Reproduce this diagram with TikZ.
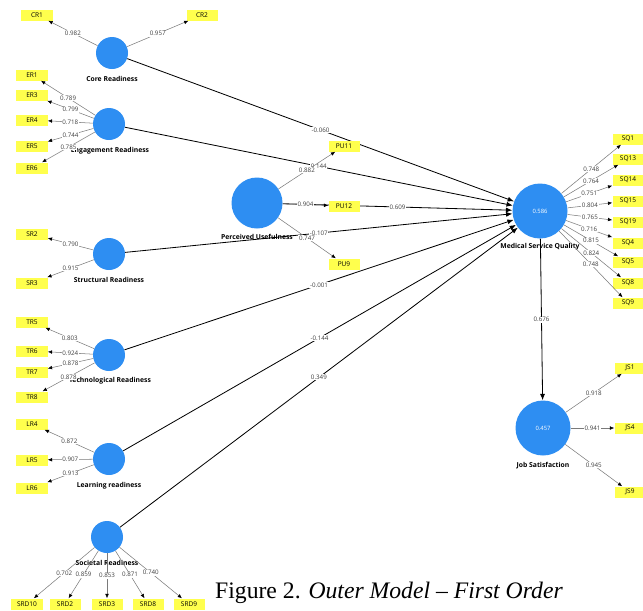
\documentclass[tikz,border=0pt]{standalone}
\usepackage{fontspec}
\newfontfamily\plsfont{Open Sans}
\newfontfamily\capfont{Liberation Serif}
\usetikzlibrary{arrows.meta,backgrounds}

\definecolor{lvblue}{HTML}{2E8EF2}
\definecolor{mvyellow}{HTML}{FFFF4D}
\definecolor{loadgray}{HTML}{7A7A7A}

\tikzset{
  lv/.style={circle, fill=lvblue, inner sep=0pt, minimum size=0.96cm},
  lvmid/.style={lv, minimum size=1.53cm},
  lvbig/.style={lv, minimum size=1.65cm},
  lvname/.style={font=\plsfont\bfseries\fontsize{5.8}{6}\selectfont, inner sep=0.5pt},
  rsq/.style={text=white, font=\plsfont\fontsize{5}{6}\selectfont},
  mv/.style={rectangle, fill=mvyellow, minimum width=0.93cm, minimum height=0.33cm, inner sep=0pt, font=\plsfont\fontsize{5.6}{6}\selectfont},
  loadarrow/.style={draw=loadgray, line width=0.45pt, -{Latex[color=black,length=1.3mm,width=1.1mm]}},
  structpath/.style={draw=black, line width=0.7pt, -{Latex[length=1.9mm,width=1.5mm]}},
  coef/.style={fill=white, inner sep=0.6pt, text=black!75, font=\plsfont\fontsize{5.3}{6}\selectfont}
}

\begin{document}
\begin{tikzpicture}[x=0.03cm, y=-0.03cm]

\useasboundingbox (0,0) rectangle (643,610);

%latent variables
\node [lv] (CR) at (112,53) {};
\node [lv] (ER) at (109,124) {};
\node [lv] (SR) at (109,254) {};
\node [lv] (TR) at (109,355) {};
\node [lv] (LR) at (109,459) {};
\node [lv] (SRD) at (107,537) {};
\node [lvmid] (PU) at (257,203) {};
\node [lvbig] (MSQ) at (540,211) {};
\node [rsq] (MSQr) at (MSQ) {0.586};
\node [lvbig] (JS) at (543,428) {};
\node [rsq] (JSr) at (JS) {0.457};

\node [lvname] (CRt) at (112,79) {Core Readiness};
\node [lvname] (ERt) at (110,151) {Engagement Readiness};
\node [lvname] (SRt) at (109,280) {Structural Readiness};
\node [lvname] (TRt) at (110,381) {Technological Readiness};
\node [lvname] (LRt) at (109,486) {Learning readiness};
\node [lvname] (SRDt) at (107,563) {Societal Readiness};
\node [lvname] (PUt) at (257,237) {Perceived Usefulness};
\node [lvname] (MSQt) at (540,247) {Medical Service Quality};
\node [lvname] (JSt) at (543,466) {Job Satisfaction};

%indicators
\node [mv] (CR1) at (37,15) {CR1};
\node [mv] (CR2) at (202,15) {CR2};
\node [mv] (ER1) at (32,75) {ER1};
\node [mv] (ER3) at (32,95) {ER3};
\node [mv] (ER4) at (32,120) {ER4};
\node [mv] (ER5) at (32,146) {ER5};
\node [mv] (ER6) at (32,168) {ER6};
\node [mv] (SR2) at (32,234) {SR2};
\node [mv] (SR3) at (32,283) {SR3};
\node [mv] (TR5) at (32,322) {TR5};
\node [mv] (TR6) at (32,351) {TR6};
\node [mv] (TR7) at (32,372) {TR7};
\node [mv] (TR8) at (32,397) {TR8};
\node [mv] (LR4) at (32,424) {LR4};
\node [mv] (LR5) at (32,460) {LR5};
\node [mv] (LR6) at (32,488) {LR6};
\node [mv] (SRD10) at (27,604) {SRD10};
\node [mv] (SRD2) at (65,604) {SRD2};
\node [mv] (SRD3) at (107,604) {SRD3};
\node [mv] (SRD8) at (148,604) {SRD8};
\node [mv] (SRD9) at (189,604) {SRD9};
\node [mv] (PU11) at (344,146) {PU11};
\node [mv] (PU12) at (344,206) {PU12};
\node [mv] (PU9) at (344,264) {PU9};
\node [mv] (SQ1) at (628,139) {SQ1};
\node [mv] (SQ13) at (628,159) {SQ13};
\node [mv] (SQ14) at (628,180) {SQ14};
\node [mv] (SQ15) at (628,201) {SQ15};
\node [mv] (SQ19) at (628,222) {SQ19};
\node [mv] (SQ4) at (628,243) {SQ4};
\node [mv] (SQ5) at (628,262) {SQ5};
\node [mv] (SQ8) at (628,283) {SQ8};
\node [mv] (SQ9) at (628,303) {SQ9};
\node [mv] (JS1) at (630,368) {JS1};
\node [mv] (JS4) at (630,428) {JS4};
\node [mv] (JS9) at (630,492) {JS9};

%inner model
\begin{scope}[on background layer]
\draw [structpath] (CR) -- node [coef] {-0.060} (MSQ);
\draw [structpath] (ER) -- node [coef] {0.144} (MSQ);
\draw [structpath] (PU) -- node [coef] {0.609} (MSQ);
\draw [structpath] (SR) -- node [coef] {-0.107} (MSQ);
\draw [structpath] (TR) -- node [coef] {-0.001} (MSQ);
\draw [structpath] (LR) -- node [coef] {-0.144} (MSQ);
\draw [structpath] (SRD) -- node [coef] {0.349} (MSQ);
\draw [structpath] (MSQ) -- node [coef] {0.676} (JS);
\end{scope}

%outer loadings
\draw [loadarrow] (CR) -- node [coef] {0.982} (CR1);
\draw [loadarrow] (CR) -- node [coef] {0.957} (CR2);

\draw [loadarrow] (ER) -- node [coef] {0.789} (ER1);
\draw [loadarrow] (ER) -- node [coef] {0.799} (ER3);
\draw [loadarrow] (ER) -- node [coef] {0.718} (ER4);
\draw [loadarrow] (ER) -- node [coef] {0.744} (ER5);
\draw [loadarrow] (ER) -- node [coef] {0.785} (ER6);

\draw [loadarrow] (SR) -- node [coef] {0.790} (SR2);
\draw [loadarrow] (SR) -- node [coef] {0.915} (SR3);

\draw [loadarrow] (TR) -- node [coef] {0.803} (TR5);
\draw [loadarrow] (TR) -- node [coef] {0.924} (TR6);
\draw [loadarrow] (TR) -- node [coef] {0.878} (TR7);
\draw [loadarrow] (TR) -- node [coef] {0.878} (TR8);

\draw [loadarrow] (LR) -- node [coef] {0.872} (LR4);
\draw [loadarrow] (LR) -- node [coef] {0.907} (LR5);
\draw [loadarrow] (LR) -- node [coef] {0.913} (LR6);

\draw [loadarrow] (SRD) -- node [coef] {0.702} (SRD10);
\draw [loadarrow] (SRD) -- node [coef] {0.859} (SRD2);
\draw [loadarrow] (SRD) -- node [coef] {0.853} (SRD3);
\draw [loadarrow] (SRD) -- node [coef] {0.871} (SRD8);
\draw [loadarrow] (SRD) -- node [coef] {0.740} (SRD9);

\draw [loadarrow] (PU) -- node [coef] {0.882} (PU11);
\draw [loadarrow] (PU) -- node [coef] {0.904} (PU12);
\draw [loadarrow] (PU) -- node [coef] {0.747} (PU9);

\draw [loadarrow] (MSQ) -- node [coef] {0.748} (SQ1);
\draw [loadarrow] (MSQ) -- node [coef] {0.764} (SQ13);
\draw [loadarrow] (MSQ) -- node [coef] {0.751} (SQ14);
\draw [loadarrow] (MSQ) -- node [coef] {0.804} (SQ15);
\draw [loadarrow] (MSQ) -- node [coef] {0.765} (SQ19);
\draw [loadarrow] (MSQ) -- node [coef] {0.716} (SQ4);
\draw [loadarrow] (MSQ) -- node [coef] {0.815} (SQ5);
\draw [loadarrow] (MSQ) -- node [coef] {0.824} (SQ8);
\draw [loadarrow] (MSQ) -- node [coef] {0.748} (SQ9);

\draw [loadarrow] (JS) -- node [coef] {0.918} (JS1);
\draw [loadarrow] (JS) -- node [coef] {0.941} (JS4);
\draw [loadarrow] (JS) -- node [coef] {0.945} (JS9);

\node [anchor=base, font=\capfont\fontsize{20.2}{23}\selectfont] (caption) at (389,598) {Figure 2. \textit{Outer Model – First Order}};

\end{tikzpicture}
\end{document}
